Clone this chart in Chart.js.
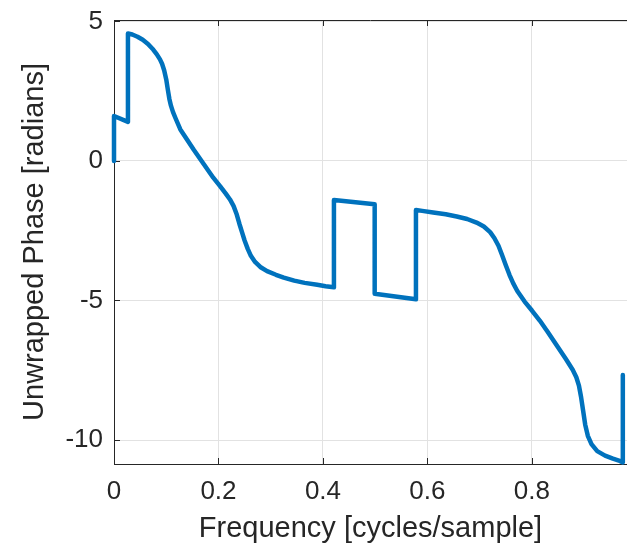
<!DOCTYPE html>
<html>
<head>
<meta charset="utf-8">
<title>Unwrapped Phase</title>
<script src="https://cdn.jsdelivr.net/npm/chart.js@4/dist/chart.umd.min.js"></script>
<style>
  html, body { margin: 0; padding: 0; background: #fff; }
  #wrap { width: 627px; height: 544px; }
</style>
</head>
<body>
<div id="wrap"><canvas id="chart-phase" width="627" height="544"></canvas></div>
<script>
(function () {
  "use strict";

  // unwrapped phase response, sampled along normalized frequency
  const freq = [
    0, 0, 0.0267, 0.0267, 0.035, 0.045, 0.055, 0.065, 0.075, 0.082, 0.088,
    0.092, 0.096, 0.100, 0.103, 0.106, 0.109, 0.113, 0.118, 0.127, 0.140,
    0.153, 0.166, 0.178, 0.190, 0.203, 0.214, 0.222, 0.229, 0.235, 0.240,
    0.245, 0.250, 0.256, 0.262, 0.270, 0.280, 0.293, 0.310, 0.325, 0.345,
    0.365, 0.389, 0.405, 0.421,
    0.421, 0.499,
    0.499, 0.578,
    0.578, 0.590, 0.611, 0.635, 0.656, 0.676, 0.694, 0.708, 0.720, 0.728,
    0.736, 0.743, 0.750, 0.757, 0.764, 0.772, 0.786, 0.800, 0.815, 0.830,
    0.847, 0.865, 0.878, 0.885, 0.890, 0.894, 0.898, 0.902, 0.907, 0.914,
    0.925, 0.940, 0.955, 0.968, 0.974, 0.974
  ];
  const phase = [
    0, 1.61, 1.40, 4.57, 4.53, 4.45, 4.34, 4.19, 3.99, 3.82, 3.64,
    3.48, 3.25, 2.92, 2.56, 2.22, 1.98, 1.75, 1.52, 1.13, 0.76,
    0.39, 0.04, -0.28, -0.60, -0.90, -1.17, -1.38, -1.62, -1.92, -2.25,
    -2.55, -2.85, -3.15, -3.40, -3.62, -3.80, -3.95, -4.08, -4.18, -4.29,
    -4.37, -4.44, -4.49, -4.53,
    -1.40, -1.55,
    -4.76, -4.96,
    -1.76, -1.79, -1.85, -1.91, -1.99, -2.08, -2.21, -2.35, -2.55, -2.76,
    -3.04, -3.38, -3.74, -4.08, -4.38, -4.66, -5.04, -5.36, -5.72, -6.12,
    -6.60, -7.10, -7.48, -7.75, -8.05, -8.45, -8.95, -9.45, -9.85, -10.15,
    -10.40, -10.56, -10.67, -10.75, -10.80, -7.67
  ];
  const xTicks = [0, 0.2, 0.4, 0.6, 0.8];
  const yTicks = [-10, -5, 0, 5];

  const AXIS = "#262626";
  const GRID = "#e2e2e2";
  const FONT = "'Liberation Sans', Arial, Helvetica, sans-serif";

  // MATLAB-style box: top edge plus short inward tick marks
  const boxTicks = {
    id: "boxTicks",
    beforeDatasetsDraw(chart) {
      const { ctx, chartArea: a, scales } = chart;
      const len = 6;
      ctx.save();
      ctx.strokeStyle = AXIS;
      ctx.lineWidth = 1;
      ctx.beginPath();
      ctx.moveTo(a.left, a.top + 0.5);
      ctx.lineTo(a.right, a.top + 0.5);
      xTicks.forEach((v) => {
        const px = Math.round(scales.x.getPixelForValue(v)) + 0.5;
        ctx.moveTo(px, a.bottom);
        ctx.lineTo(px, a.bottom - len);
        ctx.moveTo(px, a.top);
        ctx.lineTo(px, a.top + len);
      });
      yTicks.forEach((v) => {
        const py = Math.round(scales.y.getPixelForValue(v)) + 0.5;
        ctx.moveTo(a.left, py);
        ctx.lineTo(a.left + len, py);
      });
      ctx.stroke();
      ctx.restore();
    },
  };

  const points = freq.map((f, i) => ({ x: f, y: phase[i] }));

  new Chart(document.getElementById("chart-phase").getContext("2d"), {
    type: "line",
    data: {
      datasets: [{
        data: points,
        borderColor: "#0072BD",
        borderWidth: 4.5,
        borderJoinStyle: "round",
        borderCapStyle: "round",
        pointRadius: 0,
        tension: 0,
        fill: false,
        clip: false,
      }],
    },
    options: {
      responsive: false,
      animation: false,
      devicePixelRatio: 1,
      layout: { padding: { top: 20, right: 0, left: 0, bottom: 0 } },
      plugins: { legend: { display: false }, tooltip: { enabled: false } },
      scales: {
        x: {
          type: "linear",
          min: 0,
          max: 0.982,
          afterBuildTicks: (s) => { s.ticks = xTicks.map((v) => ({ value: v })); },
          afterFit: (s) => { s.height = 80; },
          grid: { color: GRID, drawTicks: false },
          border: { color: AXIS, width: 1 },
          ticks: {
            color: AXIS, padding: 12, maxRotation: 0,
            font: { family: FONT, size: 26 },
            callback: (v) => String(v),
          },
          title: {
            display: true, text: "Frequency [cycles/sample]", color: AXIS,
            font: { family: FONT, size: 29, lineHeight: 1 }, padding: { top: 0, bottom: 1 },
          },
        },
        y: {
          type: "linear",
          min: -10.86,
          max: 5.05,
          afterBuildTicks: (s) => { s.ticks = yTicks.map((v) => ({ value: v })); },
          afterFit: (s) => { s.width = 114; },
          grid: { color: GRID, drawTicks: false },
          border: { color: AXIS, width: 1 },
          ticks: {
            color: AXIS, padding: 11,
            font: { family: FONT, size: 26, lineHeight: 0.5 },
            callback: (v) => String(v),
          },
          title: {
            display: true, text: "Unwrapped Phase [radians]", color: AXIS,
            font: { family: FONT, size: 29, lineHeight: 1 }, padding: { top: 20, bottom: 0 },
          },
        },
      },
    },
    plugins: [boxTicks],
  });
})();
</script>
</body>
</html>
